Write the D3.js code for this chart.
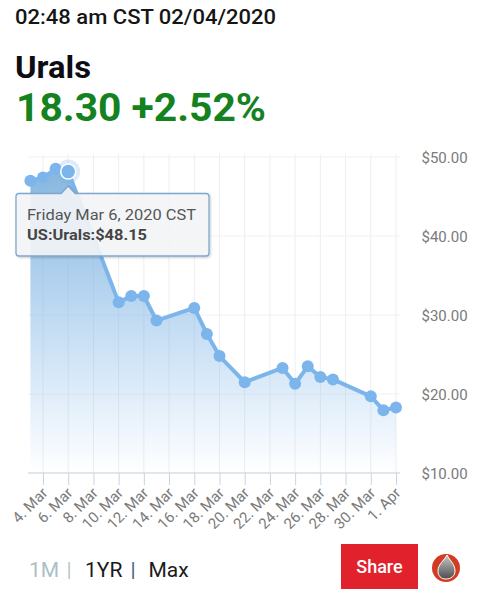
<!DOCTYPE html>
<html><head><meta charset="utf-8">
<script src="https://cdn.jsdelivr.net/npm/d3@7"></script>
<style>html,body{margin:0;padding:0;background:#fff}svg{display:block}text{font-family:Roboto,sans-serif}</style>
</head><body><svg id="c" width="493" height="600"></svg>
<script>
const dates=["2020-03-03","2020-03-04","2020-03-05","2020-03-06","2020-03-10","2020-03-11","2020-03-12","2020-03-13","2020-03-16","2020-03-17","2020-03-18","2020-03-20","2020-03-23","2020-03-24","2020-03-25","2020-03-26","2020-03-27","2020-03-30","2020-03-31","2020-04-01"];
const values=[47.0,47.4,48.5,48.15,31.6,32.4,32.4,29.3,30.9,27.6,24.8,21.5,23.3,21.3,23.5,22.15,21.85,19.7,17.95,18.3];
const xTickDates=["2020-03-04","2020-03-06","2020-03-08","2020-03-10","2020-03-12","2020-03-14","2020-03-16","2020-03-18","2020-03-20","2020-03-22","2020-03-24","2020-03-26","2020-03-28","2020-03-30","2020-04-01"];
const xTickLabels=["4. Mar","6. Mar","8. Mar","10. Mar","12. Mar","14. Mar","16. Mar","18. Mar","20. Mar","22. Mar","24. Mar","26. Mar","28. Mar","30. Mar","1. Apr"];
const yTicks=[10,20,30,40,50];
const hoverDate="2020-03-06";

const p=d3.utcParse("%Y-%m-%d");
const svg=d3.select("#c");
const x=d3.scaleUtc().domain([p("2020-03-04"),p("2020-04-01")]).range([43,396]);
const y=d3.scaleLinear().domain([10,50]).range([473,157]);
const rows=dates.map((d,i)=>({date:p(d),value:values[i]}));
const BLUE="#7cb5ec";

const defs=svg.append("defs");
const g=defs.append("linearGradient").attr("id","fade").attr("x1",0).attr("y1",0).attr("x2",0).attr("y2",1);
g.append("stop").attr("offset",0).attr("stop-color","#7fb2dd").attr("stop-opacity",0.95);
g.append("stop").attr("offset",1).attr("stop-color","#7cb5ec").attr("stop-opacity",0.0);
const sh=defs.append("filter").attr("id","sh").attr("x","-5%").attr("y","-10%").attr("width","110%").attr("height","125%");
sh.append("feDropShadow").attr("dx",1).attr("dy",1).attr("stdDeviation",1.2).attr("flood-color","#000").attr("flood-opacity",.22);

function fit(sel,len){return sel.attr("textLength",len).attr("lengthAdjust","spacingAndGlyphs");}

// Header
fit(svg.append("text").attr("x",15).attr("y",24).attr("font-size",20).attr("font-weight",500).attr("fill","#151515").text("02:48 am CST 02/04/2020"),261);
fit(svg.append("text").attr("x",15).attr("y",78).attr("font-size",32).attr("font-weight",700).attr("fill","#0d0d14").text("Urals"),76);
fit(svg.append("text").attr("x",16).attr("y",121).attr("font-size",39).attr("font-weight",700).attr("fill","#14821e").text("18.30 +2.52%"),250);

// Grid
const grid=svg.append("g");
grid.selectAll("line.v").data(xTickDates).join("line").attr("class","v")
 .attr("x1",d=>x(p(d))).attr("x2",d=>x(p(d))).attr("y1",154).attr("y2",473).attr("stroke","#eceef1").attr("stroke-width",1);
grid.selectAll("line.h").data(yTicks).join("line").attr("class","h")
 .attr("x1",28).attr("x2",400).attr("y1",d=>y(d)).attr("y2",d=>y(d)).attr("stroke","#f1f1f1").attr("stroke-width",1);

// Area + line
const area=d3.area().x(d=>x(d.date)).y0(y(10)).y1(d=>y(d.value));
const line=d3.line().x(d=>x(d.date)).y(d=>y(d.value));
svg.append("path").datum(rows).attr("d",area).attr("fill","url(#fade)");
svg.append("path").datum(rows).attr("d",line).attr("fill","none").attr("stroke",BLUE).attr("stroke-width",4).attr("stroke-linejoin","round");
svg.selectAll("circle.pt").data(rows).join("circle").attr("class","pt")
 .attr("cx",d=>x(d.date)).attr("cy",d=>y(d.value)).attr("r",6).attr("fill",BLUE);

// X axis
const xAxis=d3.axisBottom(x).tickValues(xTickDates.map(p)).tickFormat((d,i)=>xTickLabels[i]).tickSize(12).tickPadding(3);
const xg=svg.append("g").attr("transform",`translate(0,${y(10)})`).call(xAxis);
xg.select(".domain").remove();
xg.selectAll(".tick line").attr("stroke","#ccd3de");
xg.selectAll(".tick text").attr("font-family","Roboto,sans-serif").attr("font-size",15).attr("fill","#7a7a7a")
 .attr("text-anchor","end").attr("dy",0).attr("y",0).attr("transform","translate(5,21) rotate(-45)");
svg.append("line").attr("x1",28).attr("x2",400).attr("y1",y(10)).attr("y2",y(10)).attr("stroke","#ccd3de").attr("stroke-width",1.2);

// Y axis
const yAxis=d3.axisRight(y).tickValues(yTicks).tickFormat(d=>"$"+d3.format(".2f")(d)).tickSize(0).tickPadding(0);
const yg=svg.append("g").attr("transform","translate(421.5,0)").call(yAxis);
yg.select(".domain").remove();
yg.selectAll("text").attr("font-family","Roboto,sans-serif").attr("font-size",15).attr("fill","#7a7a7a").attr("dy","0.36em");

// Hover marker
const hv=rows.find(d=>+d.date===+p(hoverDate));
svg.append("circle").attr("cx",x(hv.date)).attr("cy",y(hv.value)).attr("r",12).attr("fill",BLUE).attr("opacity",.25);
svg.append("circle").attr("cx",x(hv.date)).attr("cy",y(hv.value)).attr("r",7.5).attr("fill",BLUE).attr("stroke","#fff").attr("stroke-width",1.5);

// Tooltip
const tx=x(hv.date);
const t=svg.append("g");
t.append("path").attr("d",`M19,193.5 H${tx-7} L${tx},186 L${tx+7},193.5 H206 Q209,193.5 209,196.5 V253 Q209,256 206,256 H19 Q16,256 16,253 V196.5 Q16,193.5 19,193.5 Z`)
 .attr("fill","#f6f7f9").attr("fill-opacity",.88).attr("stroke","#7ca8cf").attr("stroke-width",1.3).attr("filter","url(#sh)");
fit(t.append("text").attr("x",27).attr("y",220).attr("font-size",15.5).attr("fill","#555").text("Friday Mar 6, 2020 CST"),169);
fit(t.append("text").attr("x",27).attr("y",240).attr("font-size",15).attr("font-weight",700).attr("fill","#444").text("US:Urals:$"+d3.format(".2f")(hv.value)),120);

// Range selector
const bar=svg.append("g").attr("font-size",21);
bar.append("text").attr("x",29).attr("y",577).attr("fill","#a9c0c6").text("1M");
bar.append("text").attr("x",66.5).attr("y",577).attr("fill","#b5c7cb").text("|");
bar.append("text").attr("x",85).attr("y",577).attr("fill","#1a1a1a").text("1YR");
bar.append("text").attr("x",130.5).attr("y",577).attr("fill","#3f6478").text("|");
bar.append("text").attr("x",148.5).attr("y",577).attr("fill","#1a1a1a").text("Max");

// Share
svg.append("rect").attr("x",341).attr("y",544).attr("width",77).attr("height",45).attr("fill","#e1212b");
svg.append("text").attr("x",379.5).attr("y",572.5).attr("text-anchor","middle").attr("font-size",18).attr("font-weight",500).attr("fill","#fff").text("Share");

// Logo
const lg=defs.append("linearGradient").attr("id","drop").attr("x1",0).attr("y1",0).attr("x2",0).attr("y2",1);
lg.append("stop").attr("offset",0).attr("stop-color","#c9c9c9");lg.append("stop").attr("offset",1).attr("stop-color","#4d4d4d");
svg.append("circle").attr("cx",446).attr("cy",568).attr("r",14).attr("fill","#d33c24");
svg.append("path").attr("d","M447,555 C450,561 455,564 455,571 C455,576 451,579 446,579 C441,579 438,576 438,571 C438,564 444,561 447,555 Z").attr("fill","url(#drop)").attr("stroke","#fff").attr("stroke-width",1);
</script></body></html>
